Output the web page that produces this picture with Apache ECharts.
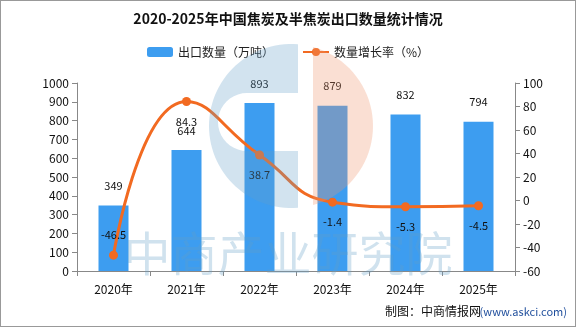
<!DOCTYPE html>
<html><head><meta charset="utf-8">
<script src="https://cdn.jsdelivr.net/npm/echarts@6/dist/echarts.min.js"></script>
<style>html,body{margin:0;padding:0;background:#fff}#c{width:576px;height:327px;box-sizing:border-box;border:1px solid #999}</style>
</head><body><div id="c"></div>
<script>
const categories = ['2020年','2021年','2022年','2023年','2024年','2025年'];
const exportVolume = [349, 644, 893, 879, 832, 794];
const growthRate = [-46.5, 84.3, 38.7, -1.4, -5.3, -4.5];
const leftTicks = [0, 1000, 100];
const rightTicks = [-60, 100, 20];

// watermark logo outline (decorative)
function arcPts(cx, cy, r, a0, a1, n) {
  const p = [];
  for (let i = 0; i <= n; i++) { const a = a0 + (a1 - a0) * i / n; p.push([cx + r * Math.cos(a), cy + r * Math.sin(a)]); }
  return p;
}
const LX = 290, LY = 125, LR = 82;
const aTopL = Math.atan2(43.3 - LY, 297 - LX), aBotL = Math.atan2(206.7 - LY, 297 - LX);
let bluePts = arcPts(LX, LY, LR, aTopL + 2 * Math.PI, aBotL, 60)
  .concat([[297, 150], [246, 150]])
  .concat(arcPts(246, 121, 29, Math.PI / 2, 3 * Math.PI / 2, 20))
  .concat([[297, 92]]);
const aTopR = Math.atan2(46 - LY, 312 - LX), aBotR = Math.atan2(204 - LY, 312 - LX);
const orangePts = arcPts(LX, LY, LR, aTopR, aBotR, 40);

const chart = echarts.init(document.getElementById('c'));
const font = '"Noto Sans CJK SC", "DejaVu Sans", sans-serif';
chart.setOption({
  animation: false,
  textStyle: {fontFamily: font},
  title: {text: '2020-2025年中国焦炭及半焦炭出口数量统计情况', left: 'center', top: 6,
    textStyle: {fontSize: 14, fontWeight: 'bold', color: '#111', fontFamily: font}},
  legend: {top: 40, left: 141, itemGap: 28, itemWidth: 26, itemHeight: 10,
    textStyle: {fontSize: 12, color: '#222', fontFamily: font},
    data: [{name: '出口数量（万吨）'}, {name: '数量增长率（%）'}]},
  graphic: [
    {type: 'polygon', z: 100, silent: true, shape: {points: bluePts},
      style: {fill: 'rgba(100,160,200,0.29)'}},
    {type: 'polygon', z: 100, silent: true, shape: {points: orangePts},
      style: {fill: 'rgba(240,150,110,0.3)'}},
    {type: 'text', left: 'center', top: 229, z: 100, silent: true,
      style: {text: '中商产业研究院', fontSize: 47, fontWeight: 'normal', fill: 'rgba(100,160,200,0.3)', fontFamily: font}},
    {type: 'text', right: 94, top: 304,
      style: {text: '制图：中商情报网', fontSize: 12, fill: '#111', fontFamily: font}},
    {type: 'text', right: 8, top: 305,
      style: {text: '(www.askci.com)', fontSize: 11, fill: '#1f4e9c', fontFamily: font}}
  ],
  grid: {left: 76, right: 60, top: 82, bottom: 55},
  xAxis: {type: 'category', data: categories,
    axisLine: {lineStyle: {color: '#888'}},
    axisTick: {show: true, length: 5, lineStyle: {color: '#888'}},
    axisLabel: {color: '#111', fontSize: 12, margin: 12}},
  yAxis: [
    {type: 'value', min: leftTicks[0], max: leftTicks[1], interval: leftTicks[2],
      axisLine: {show: true, lineStyle: {color: '#888'}},
      axisTick: {show: true, length: 5, lineStyle: {color: '#888'}},
      axisLabel: {color: '#111', fontSize: 12, formatter: v => String(v)}, splitLine: {show: false}},
    {type: 'value', min: rightTicks[0], max: rightTicks[1], interval: rightTicks[2],
      axisLine: {show: true, lineStyle: {color: '#888'}},
      axisTick: {show: true, length: 5, lineStyle: {color: '#888'}},
      axisLabel: {color: '#111', fontSize: 12, formatter: v => String(v)}, splitLine: {show: false}}
  ],
  series: [
    {name: '出口数量（万吨）', type: 'bar', data: exportVolume, barWidth: 30,
      itemStyle: {color: '#3d9df0'},
      label: {show: true, position: 'top', distance: 14, color: '#111', fontSize: 11}},
    {name: '数量增长率（%）', type: 'line', yAxisIndex: 1, smooth: true,
      data: growthRate.map((v, i) => ({value: v, label: {position: i === 0 ? 'top' : 'bottom'}})),
      symbol: 'circle', symbolSize: 9,
      lineStyle: {color: '#f26a21', width: 3}, itemStyle: {color: '#f26a21'},
      label: {show: true, distance: 10, color: '#111', fontSize: 11}}
  ]
});
</script></body></html>
